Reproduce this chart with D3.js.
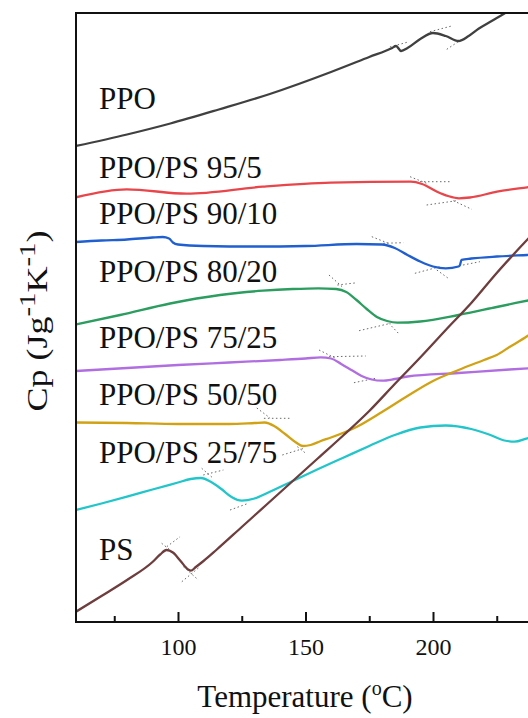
<!DOCTYPE html>
<html>
<head>
<meta charset="utf-8">
<script src="https://cdn.jsdelivr.net/npm/d3@7"></script>
<style>
  html, body { margin: 0; padding: 0; background: #fff; }
  svg { display: block; }
  text { font-family: "Liberation Serif", "Times New Roman", serif; fill: #111; }
</style>
</head>
<body>
<svg id="chart" width="528" height="718"></svg>
<script>
// ---------------- data (Temperature °C, Cp in arbitrary offset units) ----------------
const seriesNames = ["PPO", "PPO/PS 95/5", "PPO/PS 90/10", "PPO/PS 80/20",
                     "PPO/PS 75/25", "PPO/PS 50/50", "PPO/PS 25/75", "PS"];

const ppo = [[60,4.76],[80,4.875],[97,4.985],[116,5.125],[136,5.28],[160,5.50],[175,5.65],
  [184,5.74],[185.5,5.76],[187.5,5.71],[190,5.74],[195,5.83],[200,5.89],[205,5.86],
  [210,5.81],[214,5.86],[218,5.935],[223,6.01],[228,6.085],[235,6.2],[240,6.27]];

const ppo95 = [[60,4.247],[79.9,4.327],[103.4,4.283],[133.3,4.353],[159.9,4.393],
  [191.3,4.403],[195.7,4.38],[201.6,4.303],[205.9,4.26],[210.2,4.237],[214.5,4.245],
  [225.1,4.303],[236.9,4.347],[242,4.365]];

const ppo90 = [[60,3.80],[70,3.815],[80,3.825],[90,3.845],[94,3.85],[96.5,3.835],
  [98,3.795],[100,3.775],[110,3.76],[130,3.755],[150,3.76],[170,3.78],[180,3.775],
  [185,3.74],[190,3.67],[195,3.605],[200,3.555],[205,3.537],[210,3.555],[210.5,3.565],
  [211.2,3.622],[215,3.635],[225,3.655],[237,3.67],[245,3.68]];

const ppo80 = [[60,2.977],[77.3,3.07],[96.9,3.185],[116.5,3.27],[133.3,3.313],[145,3.33],
  [155,3.337],[162,3.33],[166,3.30],[170,3.22],[174,3.13],[178,3.05],[182,3.01],
  [186,2.993],[195,3.005],[210,3.07],[225,3.15],[240,3.23]];

const ppo75 = [[60,2.51],[80,2.54],[100,2.57],[120,2.595],[140,2.62],[150,2.635],
  [156,2.647],[160,2.635],[164,2.58],[168,2.52],[172,2.46],[176,2.425],[180,2.413],
  [185,2.43],[190,2.455],[210,2.49],[230,2.525],[245,2.55]];

const ppo50 = [[60,1.995],[80,1.99],[100,1.98],[120,1.98],[130,1.99],[134,1.995],
  [138,1.955],[142,1.88],[146,1.80],[149,1.76],[152,1.77],[156,1.81],[160,1.845],
  [170,1.95],[180,2.10],[190,2.26],[200,2.41],[210,2.52],[220,2.62],[225,2.67],
  [230,2.75],[237,2.86],[245,3.02]];

const ppo25 = [[60,1.12],[70,1.185],[80,1.253],[90,1.325],[100,1.395],[105,1.43],
  [109,1.44],[113,1.40],[117,1.33],[121,1.25],[125,1.213],[130,1.235],[135,1.29],
  [145,1.41],[155,1.53],[165,1.645],[175,1.76],[185,1.87],[195,1.945],[205,1.965],
  [215,1.93],[222,1.875],[228,1.815],[232,1.803],[237,1.837],[245,1.86]];

const ps = [[60,0.103],[70,0.26],[80,0.42],[90,0.60],[93,0.675],[95.5,0.72],[98,0.695],
  [101,0.61],[104,0.525],[105,0.513],[107,0.55],[110,0.61],[115,0.72],[125,0.95],
  [135,1.18],[145,1.41],[155,1.64],[165,1.87],[175,2.11],[185,2.38],[195,2.645],
  [205,2.92],[215,3.19],[225,3.49],[235,3.77],[245,4.04]];

const seriesData = [ppo, ppo95, ppo90, ppo80, ppo75, ppo50, ppo25, ps];

// label anchor: [temperature of left edge, Cp of baseline]
const labelT = [69, 69, 69, 69, 69, 69, 69, 69];
const labelCp = [5.13, 4.44, 3.98, 3.40, 2.74, 2.17, 1.59, 0.62];

// tangent construction lines: [T1, Cp1, T2, Cp2]
const tangents = [
  [198.8,5.903,207.3,5.96],[205.4,5.727,211.3,5.827],[228.2,6.087,234.8,6.187],[183.1,5.75,190.2,5.80],
  [191.0,4.453,197.5,4.387],[194.9,4.403,206.7,4.403],[197.5,4.17,209.3,4.213],[208.0,4.213,215.2,4.127],
  [176.0,3.853,182.5,3.787],[180.5,3.787,188.4,3.793],[192.9,3.487,202.7,3.553],[201.5,3.52,206.0,3.437],[211.8,3.57,218.4,3.603],
  [159.2,3.47,165.1,3.337],[162.5,3.37,170.3,3.393],[171.0,2.913,183.4,2.987],[182.7,2.987,186.7,2.88],
  [155.3,2.72,161.8,2.637],[159.2,2.653,173.6,2.66],[169.0,2.393,177.5,2.437],
  [130.9,2.14,136.1,2.04],[133.7,2.037,144.2,2.037],[140.9,1.67,149.4,1.737],[146.8,1.753,150.1,1.687],
  [109.3,1.537,113.8,1.437],[109.9,1.47,117.8,1.52],[120.4,1.12,127.6,1.187],
  [93.6,0.787,96.9,0.72],[95.6,0.753,100.8,0.853],[101.5,0.403,108.6,0.553],[102.1,0.553,108.0,0.42]
];

const majorTicks = [100, 150, 200, 250];
const majorLabels = [100, 150, 200];
const minorTicks = [75, 125, 175, 225];
const xDomain = [60, 250];
const yDomain = [0, 6.09];

// ---------------- styles ----------------
const colors = ["#404040", "#e8464b", "#1f5fcf", "#2a9d5f", "#b06ee0", "#d1a214", "#22c6ca", "#6e3d3d"];

// ---------------- chart ----------------
const svg = d3.select("#chart");
const mLeft = 76, mTop = 13, mBottom = 622;
const mRight = mLeft + (xDomain[1] - xDomain[0]) * 2.55;

const x = d3.scaleLinear().domain(xDomain).range([mLeft, mRight]);
const y = d3.scaleLinear().domain(yDomain).range([mBottom, mTop]);

svg.append("defs").append("clipPath").attr("id", "plotclip")
  .append("rect").attr("x", mLeft).attr("y", mTop)
  .attr("width", mRight - mLeft).attr("height", mBottom - mTop);

const plot = svg.append("g").attr("clip-path", "url(#plotclip)");

// tangent lines
plot.selectAll("line.tan").data(tangents).join("line")
  .attr("class", "tan")
  .attr("x1", d => x(d[0])).attr("y1", d => y(d[1]))
  .attr("x2", d => x(d[2])).attr("y2", d => y(d[3]))
  .attr("stroke", "#6a6a6a").attr("stroke-width", 1)
  .attr("stroke-dasharray", "1.5,2.5");

const line = d3.line().x(d => x(d[0])).y(d => y(d[1])).curve(d3.curveMonotoneX);

plot.selectAll("path.series").data(seriesData).join("path")
  .attr("class", "series")
  .attr("d", line)
  .attr("fill", "none")
  .attr("stroke", (d, i) => colors[i])
  .attr("stroke-width", 2.3)
  .attr("stroke-linejoin", "round");

// frame
svg.append("rect").attr("x", mLeft).attr("y", mTop)
  .attr("width", mRight - mLeft).attr("height", mBottom - mTop)
  .attr("fill", "none").attr("stroke", "#111").attr("stroke-width", 2);

// axes
const axMajor = svg.append("g").attr("transform", `translate(0,${mBottom})`)
  .call(d3.axisBottom(x).tickValues(majorTicks).tickSize(-10)
    .tickFormat(d => majorLabels.includes(d) ? d3.format("d")(d) : ""));
axMajor.select(".domain").remove();
axMajor.selectAll(".tick line").attr("stroke", "#111").attr("stroke-width", 2);
axMajor.selectAll(".tick text").attr("font-size", 24)
  .attr("font-family", "Liberation Serif, serif").attr("fill", "#111")
  .attr("dy", null).attr("y", 33);

const axMinor = svg.append("g").attr("transform", `translate(0,${mBottom})`)
  .call(d3.axisBottom(x).tickValues(minorTicks).tickSize(-6).tickFormat(""));
axMinor.select(".domain").remove();
axMinor.selectAll(".tick line").attr("stroke", "#111").attr("stroke-width", 2);

// series labels
svg.selectAll("text.lab").data(seriesNames).join("text")
  .attr("class", "lab")
  .attr("x", (d, i) => x(labelT[i]))
  .attr("y", (d, i) => y(labelCp[i]))
  .attr("font-size", 31)
  .text(d => d);

// x axis title
const xt = svg.append("text").attr("x", 305).attr("y", 707)
  .attr("text-anchor", "middle").attr("font-size", 31);
xt.append("tspan").text("Temperature (");
xt.append("tspan").attr("font-size", 20).attr("dy", -12).text("o");
xt.append("tspan").attr("dy", 12).text("C)");

// y axis title
const yg = svg.append("g").attr("transform", "translate(47,321) rotate(-90) scale(1.2,1)");
const yt = yg.append("text").attr("x", 0).attr("y", 0)
  .attr("text-anchor", "middle").attr("font-size", 30);
yt.append("tspan").text("Cp (Jg");
yt.append("tspan").attr("font-size", 24).attr("dy", -12).text("-1");
yt.append("tspan").attr("dy", 12).text("K");
yt.append("tspan").attr("font-size", 24).attr("dy", -12).text("-1");
yt.append("tspan").attr("dy", 12).text(")");
</script>
</body>
</html>
